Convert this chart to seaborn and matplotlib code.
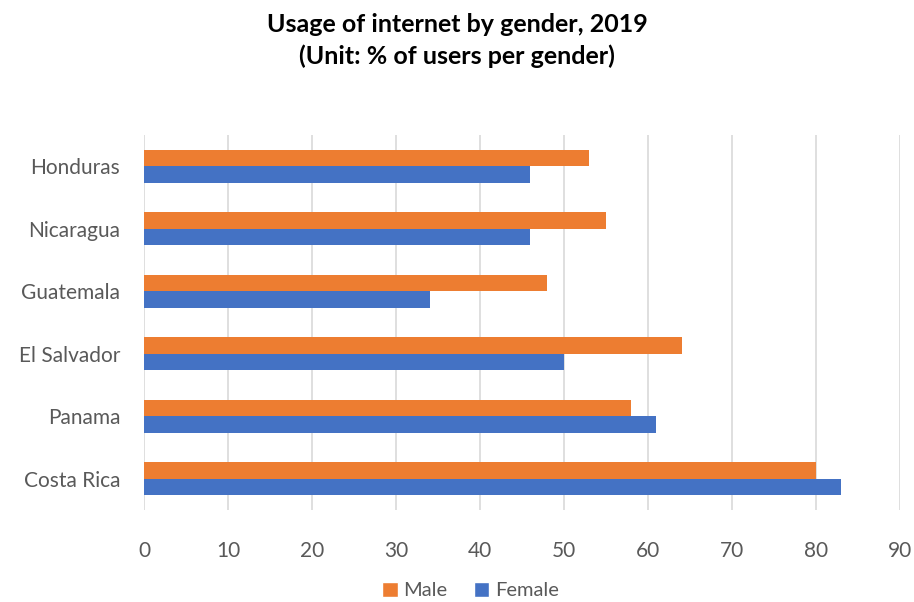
import matplotlib
matplotlib.use("Agg")
import matplotlib.pyplot as plt
import seaborn as sns
import pandas as pd
from matplotlib.patches import Patch

countries = ["Honduras", "Nicaragua", "Guatemala", "El Salvador", "Panama", "Costa Rica"]
male = [53, 55, 48, 64, 58, 80]
female = [46, 46, 34, 50, 61, 83]
x_ticks = [0, 10, 20, 30, 40, 50, 60, 70, 80, 90]

df = pd.DataFrame({
    "country": countries * 2,
    "gender": ["Male"] * len(countries) + ["Female"] * len(countries),
    "value": male + female,
})

sns.set_style("white")
plt.rcParams["font.family"] = ["Lato", "DejaVu Sans"]
txt = "#595959"
grid = "#D9D9D9"
palette = {"Male": "#ED7D31", "Female": "#4472C4"}

fig = plt.figure(figsize=(9.14, 6.02), dpi=100)
ax = fig.add_axes([0.1575, 0.1528, 0.8272, 0.6229])

sns.barplot(data=df, y="country", x="value", hue="gender", hue_order=["Male", "Female"],
            order=countries, palette=palette, orient="h", width=0.53, ax=ax,
            saturation=1, legend=False, errorbar=None, linewidth=0)

ax.set_xlim(0, 90)
ax.set_xticks(x_ticks)
ax.set_xticklabels([str(t) for t in x_ticks])
ax.set_xlabel("")
ax.set_ylabel("")
for s in ax.spines.values():
    s.set_visible(False)
ax.grid(axis="x", color=grid, linewidth=1.2)
ax.grid(axis="y", visible=False)
ax.set_axisbelow(True)
ax.tick_params(axis="x", length=7, color=grid, width=1.2, pad=15, labelsize=15, labelcolor=txt)
ax.tick_params(axis="y", length=0, pad=17, labelsize=15, labelcolor=txt)

fig.text(0.5, 1 - 25 / 602, "Usage of internet by gender, 2019",
         ha="center", va="center", fontsize=18, fontweight="bold", color="black")
fig.text(0.5, 1 - 56 / 602, "(Unit: % of users per gender)",
         ha="center", va="center", fontsize=18, fontweight="bold", color="black")

handles = [Patch(facecolor=palette["Male"], label="Male"),
           Patch(facecolor=palette["Female"], label="Female")]
fig.legend(handles=handles, loc="center", bbox_to_anchor=(0.515, 0.019), ncol=2, frameon=False,
           fontsize=14.5, labelcolor=txt, handlelength=0.75, handleheight=0.75, handletextpad=0.3,
           columnspacing=1.3, borderpad=0.1)

fig.savefig("out.png", dpi=100)
